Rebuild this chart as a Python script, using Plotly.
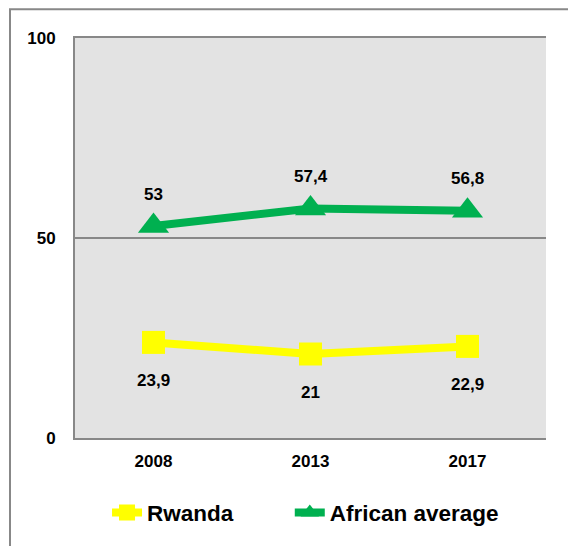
import plotly.graph_objects as go

years = ["2008", "2013", "2017"]
rwanda = [23.9, 21, 22.9]
african = [53, 57.4, 56.8]
rwanda_labels = ["23,9", "21", "22,9"]
african_labels = ["53", "57,4", "56,8"]
y_ticks = [0, 50, 100]

FONT = "Arial, Liberation Sans"
fig = go.Figure()
fig.add_trace(go.Scatter(
    x=years, y=rwanda, name="Rwanda", mode="lines+markers",
    line=dict(color="#FFFF00", width=8),
    marker=dict(symbol="square", size=23, color="#FFFF00"),
    legend="legend",
))
fig.add_trace(go.Scatter(
    x=years, y=african, name="African average", mode="lines+markers",
    line=dict(color="#00B050", width=8),
    marker=dict(symbol="triangle-up", size=27, color="#00B050"),
    legend="legend2",
))

annotations = []
for i, (y, t) in enumerate(zip(rwanda, rwanda_labels)):
    annotations.append(dict(x=i, y=y, xref="x", yref="y", text=t, showarrow=False, yshift=-38,
                            font=dict(family=FONT, size=17, color="#000", weight="bold")))
for i, (y, t) in enumerate(zip(african, african_labels)):
    annotations.append(dict(x=i, y=y, xref="x", yref="y", text=t, showarrow=False, yshift=32,
                            font=dict(family=FONT, size=17, color="#000", weight="bold")))

legend_font = dict(family=FONT, size=22.5, color="#000", weight="bold")
fig.update_layout(
    width=568, height=546,
    margin=dict(l=75, r=22, t=38, b=106),
    paper_bgcolor="white", plot_bgcolor="#E3E3E3",
    font=dict(family=FONT, size=17, color="#000", weight="bold"),
    showlegend=True,
    legend=dict(orientation="h", x=0.068, xanchor="left", y=-0.187, yanchor="middle",
                font=legend_font),
    legend2=dict(orientation="h", x=0.456, xanchor="left", y=-0.187, yanchor="middle",
                 font=legend_font),
    annotations=annotations,
    shapes=[dict(type="rect", xref="paper", yref="paper",
                 x0=-0.138, x1=1.06, y0=-0.28, y1=1.072,
                 line=dict(color="#888", width=2), fillcolor="rgba(0,0,0,0)", layer="below")],
)
fig.update_xaxes(type="category", range=[-0.5, 2.5], showline=True, mirror=True,
                 linecolor="#888", linewidth=2, showgrid=False, ticks="",
                 tickfont=dict(size=17, family=FONT, weight="bold"),
                 ticklabelstandoff=7)
fig.update_yaxes(range=[0, 100], tickvals=y_ticks, showline=True, mirror=False,
                 linecolor="#888", linewidth=2, showgrid=True, gridcolor="#888", gridwidth=1.5,
                 zeroline=False, ticks="", ticklabelstandoff=14,
                 tickfont=dict(size=17, family=FONT, weight="bold"))
fig.write_html("out.html")
